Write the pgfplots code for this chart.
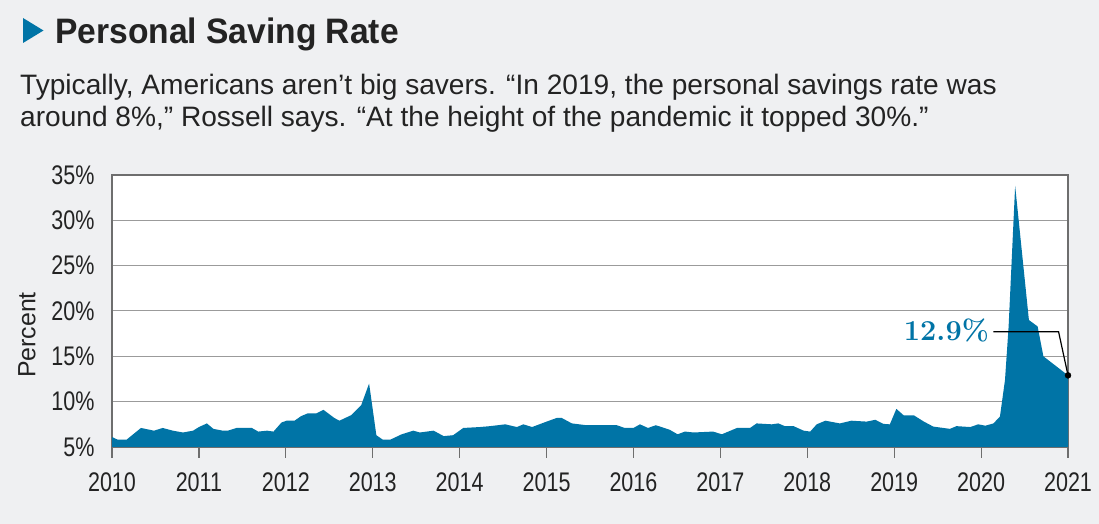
\documentclass[border=0pt]{standalone}
\usepackage{fontspec}
\setmainfont{Liberation Sans}
\newfontfamily\tickfont{Liberation Sans}[FakeStretch=0.8]
\newfontfamily\titlefont{Liberation Sans}[FakeStretch=0.95]
\usepackage{pgfplots}
\pgfplotsset{compat=1.18}
\definecolor{bg}{RGB}{239,240,242}
\definecolor{fillblue}{RGB}{0,116,166}
\definecolor{axgray}{RGB}{110,110,110}
\definecolor{gridgray}{RGB}{155,155,155}
\definecolor{txt}{RGB}{35,35,35}
\begin{document}
\begin{tikzpicture}[x=1bp,y=1bp]
\fill[bg] (0,0) rectangle (1099,524);
% title
\fill[fillblue] (23,506) -- (23,481) -- (43.5,493.5) -- cycle;
\node[anchor=base west, inner sep=0, text=txt] at (55,480.7) {\titlefont\bfseries\fontsize{35.5}{35}\selectfont Personal Saving Rate};
\node[anchor=base west, inner sep=0, text=txt] at (20,429) {\fontsize{28.2}{28}\selectfont Typically, Americans aren’t big savers. “In 2019, the personal savings rate was};
\node[anchor=base west, inner sep=0, text=txt] at (20,397.3) {\fontsize{28.2}{28}\selectfont around 8\%,” Rossell says. “At the height of the pandemic it topped 30\%.”};
\begin{axis}[
  at={(112bp,77bp)}, anchor=south west,
  scale only axis, width=956bp, height=272bp,
  xmin=0, xmax=132, ymin=5, ymax=35,
  xtick={0,12,...,132},
  xticklabels={2010,2011,2012,2013,2014,2015,2016,2017,2018,2019,2020,2021},
  ytick={5,10,15,20,25,30,35},
  yticklabels={5\%,10\%,15\%,20\%,25\%,30\%,35\%},
  axis background/.style={fill=white},
  axis line style={draw=axgray, line width=1.3bp},
  ymajorgrids, grid style={draw=gridgray, line width=1bp},
  xtick pos=bottom, tick align=outside,
  major tick length=11bp,
  xtick style={draw=axgray, line width=1.2bp},
  ytick style={draw=none},
  tick label style={font=\tickfont\fontsize{27}{27}\selectfont, text=txt},
  yticklabel style={xshift=-3bp},
  xticklabel style={yshift=-11bp},
  ylabel={Percent},
  ylabel style={font=\fontsize{25}{25}\selectfont, text=txt, at={(axis description cs:0,0.5)}, anchor=center, yshift=85bp, xshift=-24bp},
  clip=true,
]
\addplot[fill=fillblue, draw=none] coordinates {
(0.0,6.1) (0.8,5.8) (2.0,5.8) (4.0,7.1) (5.8,6.8) (7.0,7.1) (8.4,6.8) (9.8,6.6) (11.2,6.8)
(12.0,7.2) (13.1,7.6) (14.0,7.0) (15.3,6.8) (16.0,6.8) (17.2,7.1) (19.3,7.1) (20.2,6.7) (21.4,6.8) (22.3,6.7) (23.4,7.7)
(24.1,7.9) (25.2,7.9) (26.1,8.4) (27.0,8.7) (28.2,8.7) (29.2,9.1) (30.7,8.2) (31.4,7.9) (33.0,8.5) (34.4,9.6) (35.5,12.0)
(36.5,6.3) (37.4,5.8) (38.4,5.8) (40.0,6.4) (41.6,6.8) (42.5,6.6) (44.4,6.8) (45.8,6.2) (47.1,6.3)
(48.5,7.1) (50.8,7.2) (52.2,7.3) (54.3,7.5) (55.9,7.2) (56.8,7.5) (58.0,7.2)
(60.0,7.8) (61.4,8.2) (62.1,8.2) (63.5,7.6) (65.5,7.4) (67.4,7.4) (69.7,7.4) (70.8,7.1)
(72.0,7.1) (72.9,7.5) (74.0,7.1) (75.1,7.4) (77.0,6.9) (78.1,6.4) (79.1,6.7) (80.3,6.6) (83.0,6.7)
(84.2,6.4) (86.3,7.1) (88.1,7.1) (89.0,7.6) (91.1,7.5) (92.0,7.6) (92.9,7.3) (94.1,7.3) (95.5,6.8)
(96.4,6.7) (97.3,7.5) (98.5,7.9) (100.5,7.6) (102.1,7.9) (104.2,7.8) (105.4,8.0) (106.5,7.55) (107.4,7.5)
(108.3,9.2) (109.3,8.5) (110.7,8.5) (112.1,7.8) (113.4,7.25) (115.7,7.0) (116.6,7.3) (118.5,7.2) (119.6,7.5)
(120.6,7.35) (121.7,7.6) (122.6,8.35) (123.3,12.4) (123.8,18.3) (124.7,33.8) (126.6,19.0) (127.8,18.3) (128.6,15.0) (132.0,12.9)
} \closedcycle;
\draw[black, line width=1.2bp] (axis cs:121.7,17.7) -- (axis cs:130.7,17.7) -- (axis cs:132,12.9);
\addplot[only marks, mark=*, mark size=3bp, black] coordinates {(132,12.9)};
\node[anchor=east, inner sep=0, text=fillblue] at (axis cs:121.1,17.8) {\fontspec{Latin Modern Roman}\bfseries\fontsize{29}{29}\selectfont 12.9\%};
\end{axis}
\end{tikzpicture}
\end{document}
